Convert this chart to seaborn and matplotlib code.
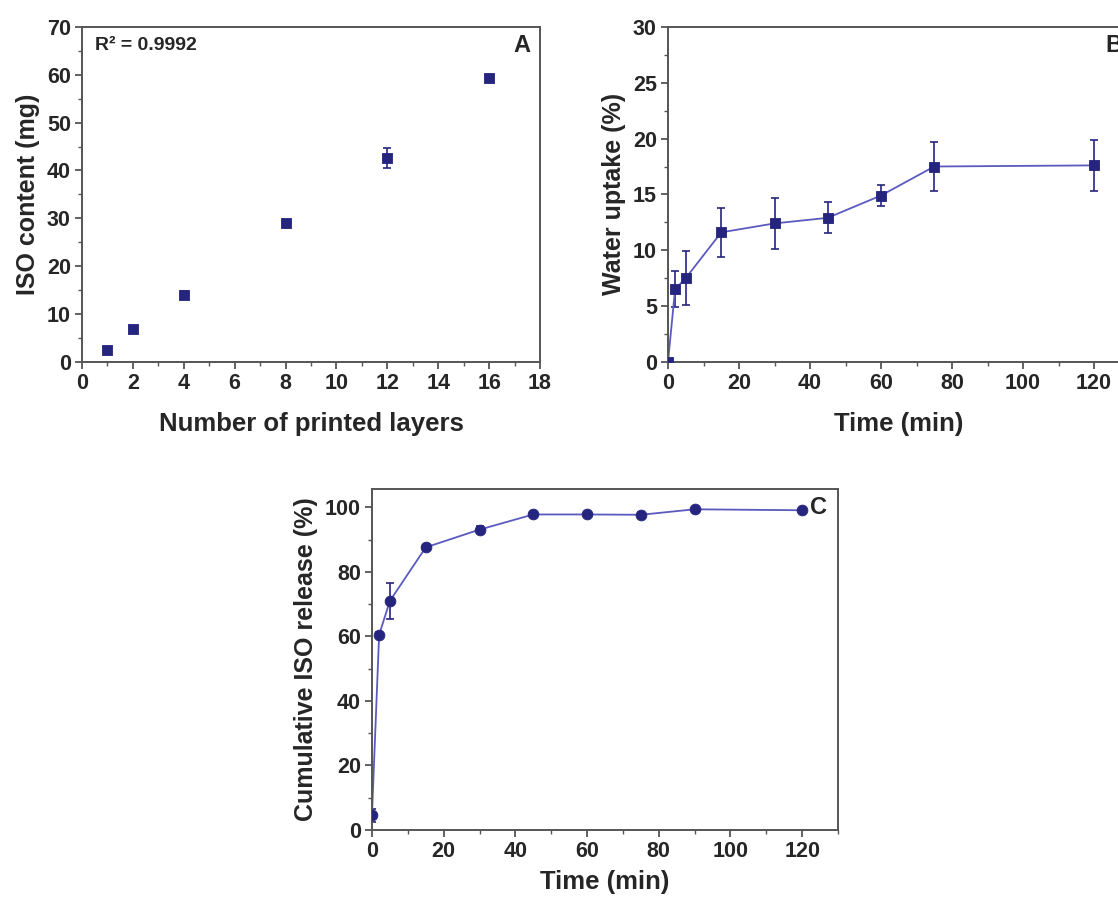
import matplotlib
matplotlib.use('Agg')
import matplotlib.pyplot as plt
import seaborn as sns
import pandas as pd
from matplotlib.ticker import MultipleLocator

# Panel A - ISO content vs printed layers
layers = [1, 2, 4, 8, 12, 16]
iso_content = [2.4, 6.9, 14.0, 29.0, 42.7, 59.3]
iso_content_err = [0.4, 0.4, 0.8, 0.5, 2.1, 0.7]

# Panel B - water uptake
uptake_time = [0, 2, 5, 15, 30, 45, 60, 75, 120]
water_uptake = [0.0, 6.5, 7.5, 11.6, 12.4, 12.9, 14.9, 17.5, 17.6]
water_uptake_err = [0.0, 1.6, 2.4, 2.2, 2.3, 1.4, 0.9, 2.2, 2.3]

# Panel C - cumulative release
release_time = [0, 2, 5, 15, 30, 45, 60, 75, 90, 120]
release = [4.6, 60.5, 71.0, 87.6, 93.1, 97.8, 97.8, 97.7, 99.4, 99.1]
release_err = [2.0, 1.0, 5.5, 0.8, 1.0, 0.6, 0.5, 0.8, 0.5, 0.5]

MARK = '#25257f'
LINE = '#5a5ac0'
SPINE = '#555555'

sns.set_style('ticks')
plt.rcParams['font.family'] = ['Liberation Sans', 'DejaVu Sans']
plt.rcParams['font.weight'] = 'bold'
plt.rcParams['axes.labelweight'] = 'bold'


def styleAxes(ax, xmajor, xminor, ymajor, yminor):
    ax.xaxis.set_major_locator(MultipleLocator(xmajor))
    ax.xaxis.set_minor_locator(MultipleLocator(xminor))
    ax.yaxis.set_major_locator(MultipleLocator(ymajor))
    ax.yaxis.set_minor_locator(MultipleLocator(yminor))
    ax.tick_params(which='major', direction='out', length=5, width=1.3,
                   color=SPINE, labelsize=15.5, pad=3)
    ax.tick_params(which='minor', direction='out', length=3, width=1.0, color=SPINE)
    ax.tick_params(top=False, right=False, which='both')
    for s in ax.spines.values():
        s.set_visible(True)
        s.set_color(SPINE)
        s.set_linewidth(1.4)
    for lab in ax.get_xticklabels() + ax.get_yticklabels():
        lab.set_fontweight('bold')


fig = plt.figure(figsize=(11.18, 9), dpi=100)

# ---- A ----
axA = fig.add_axes([0.0733, 0.598, 0.4097, 0.372])
dfA = pd.DataFrame({'layers': layers, 'content': iso_content})
axA.errorbar(layers, iso_content, yerr=iso_content_err, fmt='none',
             ecolor=MARK, elinewidth=1.2, capsize=3, capthick=1.2)
sns.scatterplot(data=dfA, x='layers', y='content', marker='s', s=60,
                color=MARK, edgecolor=MARK, ax=axA, zorder=3)
axA.set_xlim(0, 18)
axA.set_ylim(0, 70)
styleAxes(axA, 2, 1, 10, 5)
axA.set_xlabel('Number of printed layers', fontsize=18.5, labelpad=13)
axA.set_ylabel('ISO content (mg)', fontsize=18, labelpad=5)
axA.text(0.028, 0.946, 'R² = 0.9992', transform=axA.transAxes, fontsize=14,
         fontweight='bold', va='center')
axA.text(0.96, 0.946, 'A', transform=axA.transAxes, fontsize=17,
         fontweight='bold', ha='center', va='center')

# ---- B ----
axB = fig.add_axes([0.5975, 0.598, 0.4128, 0.372])
dfB = pd.DataFrame({'time': uptake_time, 'uptake': water_uptake})
axB.errorbar(uptake_time, water_uptake, yerr=water_uptake_err, fmt='none',
             ecolor=MARK, elinewidth=1.2, capsize=3, capthick=1.2)
sns.lineplot(data=dfB, x='time', y='uptake', color=LINE, linewidth=1.3, ax=axB)
sns.scatterplot(data=dfB, x='time', y='uptake', marker='s', s=60,
                color=MARK, edgecolor=MARK, ax=axB, zorder=3)
axB.set_xlim(0, 130)
axB.set_ylim(0, 30)
styleAxes(axB, 20, 10, 5, 2.5)
axB.set_xlabel('Time (min)', fontsize=18.5, labelpad=13)
axB.set_ylabel('Water uptake (%)', fontsize=18, labelpad=5)
axB.text(0.948, 0.946, 'B', transform=axB.transAxes, fontsize=17,
         fontweight='bold', ha='left', va='center', clip_on=False)

# ---- C ----
axC = fig.add_axes([0.3327, 0.0778, 0.4169, 0.3789])
dfC = pd.DataFrame({'time': release_time, 'release': release})
axC.errorbar(release_time, release, yerr=release_err, fmt='none',
             ecolor=MARK, elinewidth=1.2, capsize=3, capthick=1.2)
sns.lineplot(data=dfC, x='time', y='release', color=LINE, linewidth=1.3, ax=axC)
sns.scatterplot(data=dfC, x='time', y='release', marker='o', s=60,
                color=MARK, edgecolor=MARK, ax=axC, zorder=3)
axC.set_xlim(0, 130)
axC.set_ylim(0, 105.7)
styleAxes(axC, 20, 10, 20, 10)
axC.set_xlabel('Time (min)', fontsize=18.5, labelpad=6)
axC.set_ylabel('Cumulative ISO release (%)', fontsize=18, labelpad=5)
axC.text(0.94, 0.945, 'C', transform=axC.transAxes, fontsize=17,
         fontweight='bold', ha='left', va='center')

fig.savefig('out.png', dpi=100)
